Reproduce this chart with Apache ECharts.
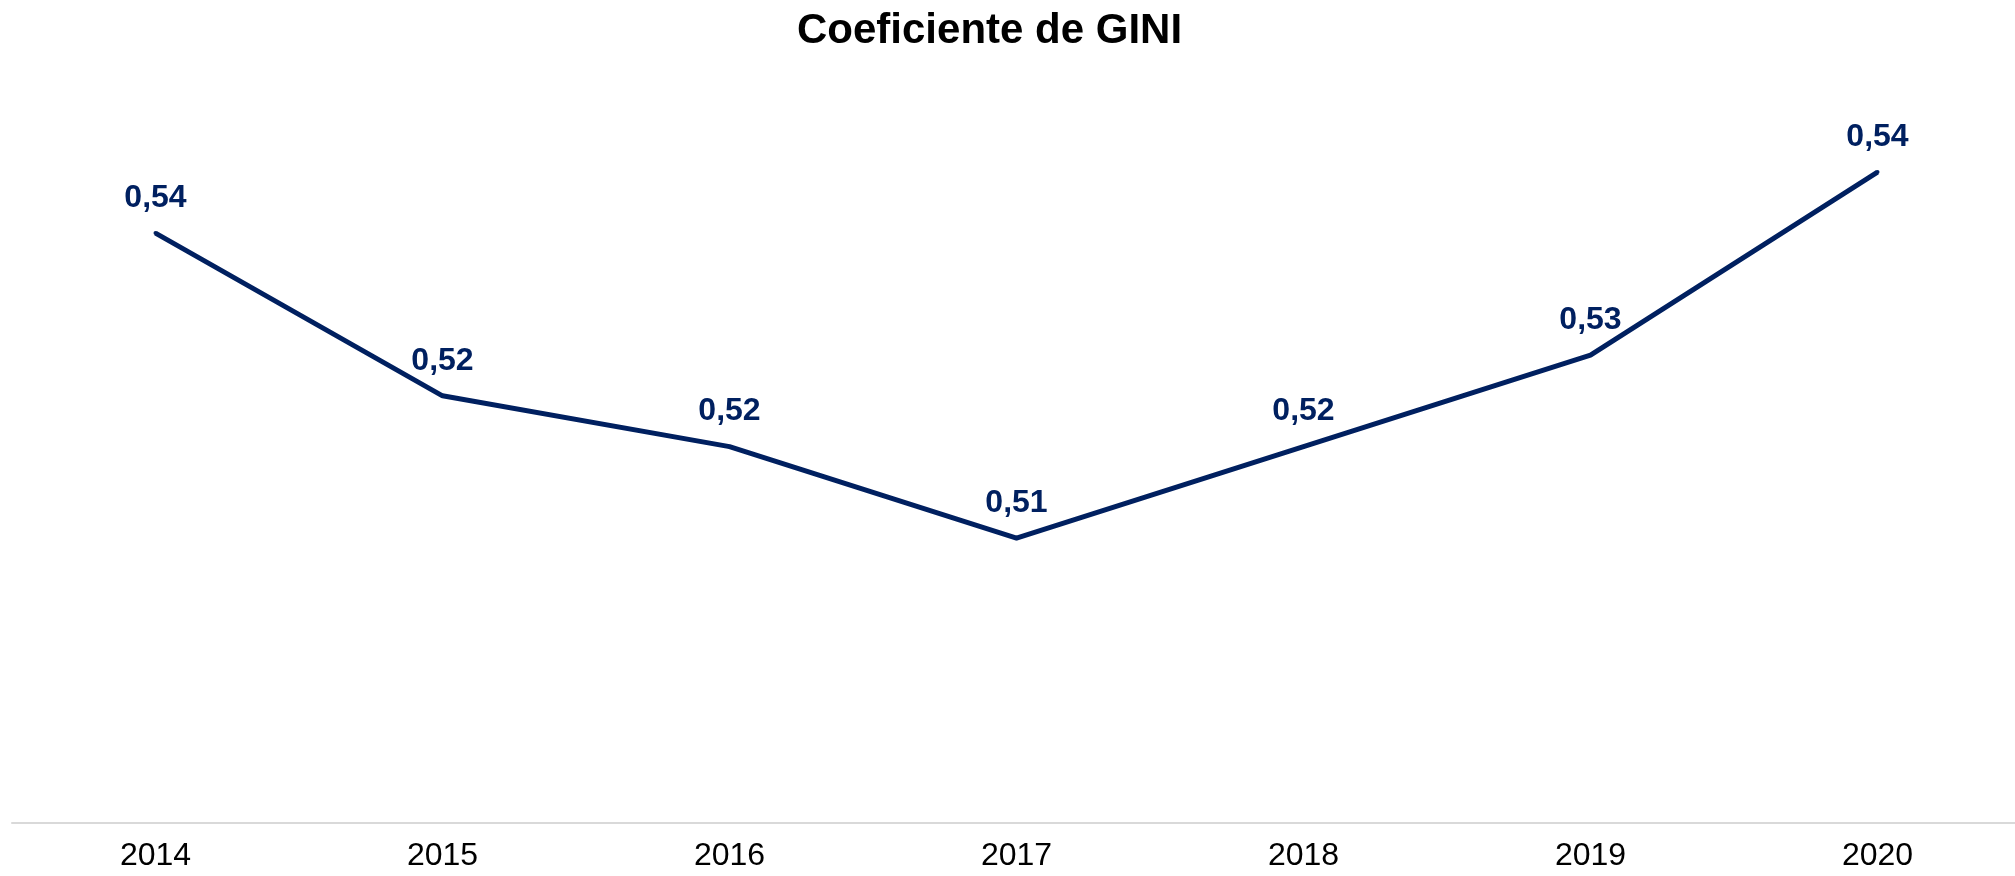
<!DOCTYPE html>
<html>
<head>
<meta charset="utf-8">
<script src="https://cdn.jsdelivr.net/npm/echarts@6/dist/echarts.min.js"></script>
<style>
  html, body { margin: 0; padding: 0; background: #fff; overflow: hidden; }
  #main { width: 2021px; height: 876px; }
</style>
</head>
<body>
<div id="main"></div>
<script>
// Coeficiente de GINI por año
var years = ["2014", "2015", "2016", "2017", "2018", "2019", "2020"];
var gini = [0.538, 0.522, 0.517, 0.508, 0.517, 0.526, 0.544];

var navy = "#002060";

var chart = echarts.init(document.getElementById("main"));
chart.setOption({
  animation: false,
  title: {
    text: "Coeficiente de GINI",
    left: 792,
    top: 5,
    textStyle: {
      fontFamily: "Liberation Sans, Arial, sans-serif",
      fontSize: 42,
      fontWeight: "bold",
      color: "#000"
    }
  },
  grid: {
    left: 12,
    right: 0,
    top: 111,
    bottom: 53,
    containLabel: false
  },
  xAxis: {
    type: "category",
    data: years,
    boundaryGap: true,
    axisLine: { show: true, lineStyle: { color: "#d9d9d9", width: 2 } },
    axisTick: { show: false },
    axisLabel: {
      margin: 17,
      fontSize: 32,
      color: "#000",
      fontFamily: "Liberation Sans, Arial, sans-serif"
    }
  },
  yAxis: {
    type: "value",
    min: 0.48,
    max: 0.55,
    show: false,
    splitLine: { show: false }
  },
  series: [
    {
      type: "line",
      data: gini,
      symbol: "circle",
      symbolSize: 4,
      itemStyle: { color: navy },
      lineStyle: { color: navy, width: 5 },
      label: {
        show: true,
        position: "top",
        distance: 17,
        fontSize: 32,
        fontWeight: "bold",
        color: navy,
        fontFamily: "Liberation Sans, Arial, sans-serif",
        formatter: function (p) {
          return p.value.toFixed(2).replace(".", ",");
        }
      }
    }
  ]
});
</script>
</body>
</html>
